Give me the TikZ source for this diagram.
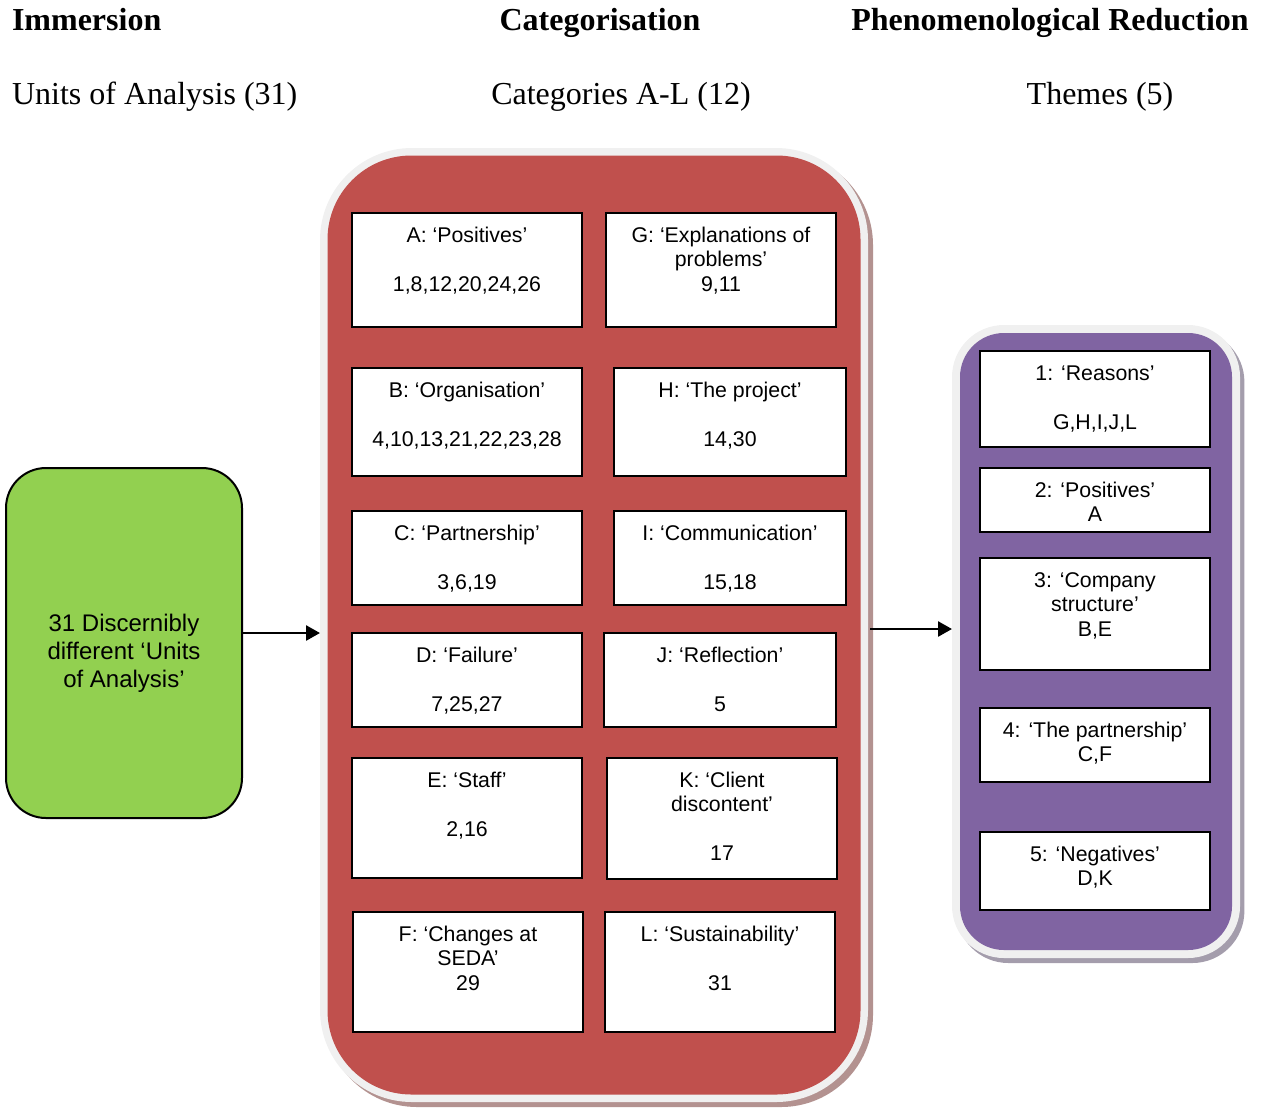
\documentclass[tikz,border=0pt]{standalone}
\usepackage{fontspec}
\setmainfont{Liberation Serif}
\newfontfamily\sansf{Liberation Sans}
\usetikzlibrary{arrows.meta,shadows}
\definecolor{catred}{HTML}{C0504D}
\definecolor{themepurple}{HTML}{8064A2}
\definecolor{unitgreen}{HTML}{92D050}
\definecolor{rim}{HTML}{F0F0F0}
\definecolor{redshade}{HTML}{B39290}
\definecolor{purpleshade}{HTML}{A49DAC}
\begin{document}
\begin{tikzpicture}[x=0.5pt,y=-0.5pt,
  head/.style={inner sep=0,outer sep=0,font=\fontsize{16}{19}\selectfont},
  frame/.style={fill=rim,inner sep=0,outer sep=0},
  itembox/.style={draw=black,line width=1.2pt,fill=white,inner sep=0,outer sep=0,
    minimum width=115pt},
  itemtext/.style={anchor=north,inner sep=0,outer sep=0,align=center,
    font=\sansf\fontsize{10.65}{12.25}\selectfont},
  arr/.style={line width=1.3pt,-{Triangle[length=7pt,width=7.5pt]}}]
\useasboundingbox (0,0) rectangle (1261,1108);

% column headings
\node[head,anchor=base west] (h1) at (12,30) {\textbf{Immersion}};
\node[head,anchor=base] (h2) at (600,30) {\textbf{Categorisation}};
\node[head,anchor=base] (h3) at (1050,30) {\textbf{Phenomenological Reduction}};
\node[head,anchor=base west] (s1) at (12,104) {Units of Analysis (31)};
\node[head,anchor=base] (s2) at (621,104) {Categories A-L (12)};
\node[head,anchor=base] (s3) at (1100,104) {Themes (5)};

% units of analysis
\node[draw=black,line width=1pt,fill=unitgreen,rounded corners=20pt,
  minimum width=118pt,minimum height=175pt,inner sep=0,outer sep=0] (units) at (124,643) {};
\node[align=center,inner sep=0,font=\sansf\fontsize{12}{14}\selectfont] (unitstxt) at (124,654)
  {\strut31 Discernibly\\different ‘Units\\of Analysis’\strut};

% category container
\node[frame,minimum width=274pt,minimum height=477pt,rounded corners=46pt,
  drop shadow={shadow xshift=2.5pt,shadow yshift=-2.5pt,fill=redshade,opacity=1}] (cats) at (594,625) {};
\fill[catred,rounded corners=42pt] ([xshift=3.75pt,yshift=-3.75pt]cats.north west)
  rectangle ([xshift=-3.75pt,yshift=3.75pt]cats.south east);

% theme container
\node[frame,minimum width=144pt,minimum height=316.5pt,rounded corners=26pt,
  drop shadow={shadow xshift=2.2pt,shadow yshift=-2.5pt,fill=purpleshade,opacity=1}] (themes) at (1096,641.5) {};
\fill[themepurple,rounded corners=22pt] ([xshift=4pt,yshift=-4pt]themes.north west)
  rectangle ([xshift=-4pt,yshift=4pt]themes.south east);

% categories
\node[itembox,minimum height=57pt] (A) at (467,270) {};
\node[itemtext] (At) at ([yshift=-6pt]A.north) {\strut A: ‘Positives’\\[12.25pt]1,8,12,20,24,26};
\node[itembox,minimum height=57pt] (G) at (721,270) {};
\node[itemtext] (Gt) at ([yshift=-6pt]G.north) {\strut G: ‘Explanations of\\problems’\\9,11};
\node[itembox,minimum height=54pt] (B) at (467,422) {};
\node[itemtext] (Bt) at ([yshift=-6pt]B.north) {\strut B: ‘Organisation’\\[12.25pt]4,10,13,21,22,23,28};
\node[itembox,minimum width=116pt,minimum height=54pt] (H) at (730,422) {};
\node[itemtext] (Ht) at ([yshift=-6pt]H.north) {\strut H: ‘The project’\\[12.25pt]14,30};
\node[itembox,minimum height=47pt] (C) at (467,558) {};
\node[itemtext] (Ct) at ([yshift=-6pt]C.north) {\strut C: ‘Partnership’\\[12.25pt]3,6,19};
\node[itembox,minimum width=116pt,minimum height=47pt] (I) at (730,558) {};
\node[itemtext] (It) at ([yshift=-6pt]I.north) {\strut I: ‘Communication’\\[12.25pt]15,18};
\node[itembox,minimum height=47pt] (D) at (467,680) {};
\node[itemtext] (Dt) at ([yshift=-6pt]D.north) {\strut D: ‘Failure’\\[12.25pt]7,25,27};
\node[itembox,minimum width=116pt,minimum height=47pt] (J) at (720,680) {};
\node[itemtext] (Jt) at ([yshift=-6pt]J.north) {\strut J: ‘Reflection’\\[12.25pt]5};
\node[itembox,minimum height=60pt] (E) at (467,818) {};
\node[itemtext] (Et) at ([yshift=-6pt]E.north) {\strut E: ‘Staff’\\[12.25pt]2,16};
\node[itembox,minimum height=60.5pt] (K) at (722,818.5) {};
\node[itemtext] (Kt) at ([yshift=-6pt]K.north) {\strut K: ‘Client\\discontent’\\[12.25pt]17};
\node[itembox,minimum height=60pt] (F) at (468,972) {};
\node[itemtext] (Ft) at ([yshift=-6pt]F.north) {\strut F: ‘Changes at\\SEDA’\\29};
\node[itembox,minimum height=60pt] (L) at (720,972) {};
\node[itemtext] (Lt) at ([yshift=-6pt]L.north) {\strut L: ‘Sustainability’\\[12.25pt]31};

% themes
\node[itembox,minimum height=48pt] (T1) at (1095,399) {};
\node[itemtext] (T1t) at ([yshift=-6pt]T1.north) {\strut 1: ‘Reasons’\\[12.25pt]G,H,I,J,L};
\node[itembox,minimum height=32pt] (T2) at (1095,500) {};
\node[itemtext] (T2t) at ([yshift=-6pt]T2.north) {\strut 2: ‘Positives’\\A};
\node[itembox,minimum height=56pt] (T3) at (1095,614) {};
\node[itemtext] (T3t) at ([yshift=-6pt]T3.north) {\strut 3: ‘Company\\structure’\\B,E};
\node[itembox,minimum height=37pt] (T4) at (1095,745) {};
\node[itemtext] (T4t) at ([yshift=-6pt]T4.north) {\strut 4: ‘The partnership’\\C,F};
\node[itembox,minimum height=39pt] (T5) at (1095,871) {};
\node[itemtext] (T5t) at ([yshift=-6pt]T5.north) {\strut 5: ‘Negatives’\\D,K};

% flow between the stages
\draw[arr] (units.east |- 0,633) -- (cats.west |- 0,633);
\draw[arr] ([xshift=1pt]cats.east |- 0,629) -- (themes.west |- 0,629);
\end{tikzpicture}
\end{document}
